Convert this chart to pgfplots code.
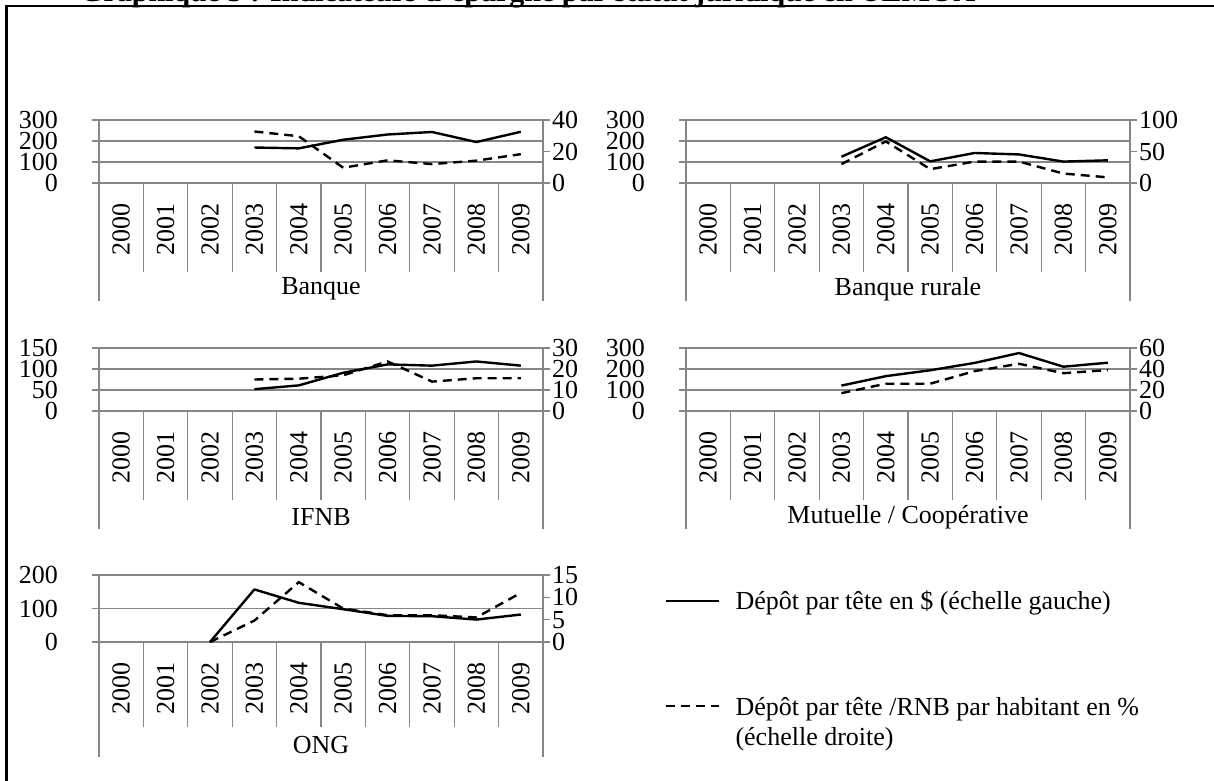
\documentclass[border=0pt]{standalone}
\usepackage{pgfplots}
\pgfplotsset{compat=1.18}
\usepackage{fontspec}
\setmainfont{Liberation Serif}
\definecolor{gcol}{RGB}{134,134,134}
\pgfplotsset{
 every axis/.append style={scale only axis, width=444pt, height=63pt, xmin=0, xmax=10, clip=false,
   /pgf/number format/assume math mode=true},
 Lax/.style={ymin=0, ymax=#1, axis x line*=bottom, axis y line*=left, xtick=\empty,
   ymajorgrids, grid style={gcol, line width=1.3pt}, axis line style={gcol, line width=1.3pt, -},
   tick align=outside, major tick length=7pt, ytick style={gcol, line width=1.3pt},
   yticklabel style={anchor=east, inner sep=0pt, xshift=-34pt}},
 Rax/.style={ymin=0, ymax=#1, axis y line*=right, axis x line=none,
   axis line style={gcol, line width=1.3pt, -},
   tick align=outside, major tick length=7pt, ytick style={gcol, line width=1.3pt},
   yticklabel style={anchor=west, inner sep=0pt, xshift=2pt}},
 Bax/.style={ymin=0, ymax=1, axis y line=none, axis x line*=bottom,
   axis line style={gcol, line width=1.3pt, -},
   xtick={0.5,1.5,...,9.5}, xticklabels={2000,2001,2002,2003,2004,2005,2006,2007,2008,2009},
   major tick length=0pt, minor xtick={1,...,9}, minor tick length=89pt, tick align=outside,
   xtick style={gcol, line width=1.3pt},
   xticklabel style={yshift=-20pt, rotate=90, anchor=east, inner sep=0pt}},
 Cax/.style={ymin=0, ymax=1, axis y line=none, axis x line*=bottom,
   axis line style={gcol, line width=1.3pt, -},
   xtick={0,10}, xticklabels={}, major tick length=118pt, tick align=outside,
   xtick style={gcol, line width=1.3pt},
   xlabel={#1}, xlabel style={at={(axis description cs:0.5,0)}, anchor=center, yshift=-106pt, inner sep=0pt}},
 sol/.style={black, line width=2.4pt, line join=round},
 das/.style={black, line width=2.4pt, dash pattern=on 9pt off 6pt},
}
\begin{document}
\begin{tikzpicture}[font=\fontsize{26}{30}\selectfont]
\draw[line width=2.5pt] (6.5pt,-781pt) -- (6.5pt,-6.2pt) -- (1215pt,-6.2pt);
\node[anchor=base west, inner sep=0pt, font=\fontsize{30}{34}\selectfont\bfseries] at (80pt,-1pt) {Graphique 3 : Indicateurs d'épargne par statut juridique en UEMOA};

% ---------- Banque ----------
\begin{axis}[Cax={Banque}, at={(99pt,-183pt)}, anchor=south west]\end{axis}
\begin{axis}[Bax, at={(99pt,-183pt)}, anchor=south west]\end{axis}
\begin{axis}[Lax=300, ytick={0,100,200,300}, at={(99pt,-183pt)}, anchor=south west]
\addplot[sol] coordinates {(3.5,169) (4.5,165) (5.5,206) (6.5,231) (7.5,243) (8.5,195) (9.5,244)};
\end{axis}
\begin{axis}[Rax=40, ytick={0,20,40}, at={(99pt,-183pt)}, anchor=south west]
\addplot[das] coordinates {(3.5,32.7) (4.5,29.7) (5.5,9.7) (6.5,14.4) (7.5,12) (8.5,14.2) (9.5,18.3)};
\end{axis}

% ---------- Banque rurale ----------
\begin{axis}[Cax={Banque rurale}, at={(686pt,-183pt)}, anchor=south west]\end{axis}
\begin{axis}[Bax, at={(686pt,-183pt)}, anchor=south west]\end{axis}
\begin{axis}[Lax=300, ytick={0,100,200,300}, at={(686pt,-183pt)}, anchor=south west]
\addplot[sol] coordinates {(3.5,125) (4.5,218) (5.5,103) (6.5,143) (7.5,136) (8.5,102) (9.5,108)};
\end{axis}
\begin{axis}[Rax=100, ytick={0,50,100}, at={(686pt,-183pt)}, anchor=south west]
\addplot[das] coordinates {(3.5,30) (4.5,66) (5.5,22) (6.5,34) (7.5,34) (8.5,15) (9.5,9)};
\end{axis}

% ---------- IFNB ----------
\begin{axis}[Cax={IFNB}, at={(99pt,-411pt)}, anchor=south west]\end{axis}
\begin{axis}[Bax, at={(99pt,-411pt)}, anchor=south west]\end{axis}
\begin{axis}[Lax=150, ytick={0,50,100,150}, at={(99pt,-411pt)}, anchor=south west]
\addplot[sol] coordinates {(3.5,52) (4.5,61) (5.5,91) (6.5,111) (7.5,108) (8.5,118) (9.5,108)};
\end{axis}
\begin{axis}[Rax=30, ytick={0,10,20,30}, at={(99pt,-411pt)}, anchor=south west]
\addplot[das] coordinates {(3.5,15) (4.5,15.4) (5.5,17) (6.5,23.6) (7.5,14) (8.5,15.6) (9.5,15.6)};
\end{axis}

% ---------- Mutuelle / Cooperative ----------
\begin{axis}[Cax={Mutuelle / Coopérative}, at={(686pt,-411pt)}, anchor=south west]\end{axis}
\begin{axis}[Bax, at={(686pt,-411pt)}, anchor=south west]\end{axis}
\begin{axis}[Lax=300, ytick={0,100,200,300}, at={(686pt,-411pt)}, anchor=south west]
\addplot[sol] coordinates {(3.5,121) (4.5,166) (5.5,194) (6.5,229) (7.5,276) (8.5,211) (9.5,230)};
\end{axis}
\begin{axis}[Rax=60, ytick={0,20,40,60}, at={(686pt,-411pt)}, anchor=south west]
\addplot[das] coordinates {(3.5,17) (4.5,26) (5.5,26) (6.5,38) (7.5,45) (8.5,36) (9.5,39)};
\end{axis}

% ---------- ONG ----------
\begin{axis}[Cax={ONG}, height=67pt, major tick length=115pt, xlabel style={yshift=3pt}, at={(99pt,-642pt)}, anchor=south west]\end{axis}
\begin{axis}[Bax, height=67pt, minor tick length=85pt, at={(99pt,-642pt)}, anchor=south west]\end{axis}
\begin{axis}[Lax=200, height=67pt, ytick={0,100,200}, at={(99pt,-642pt)}, anchor=south west]
\addplot[sol] coordinates {(2.5,0) (3.5,157) (4.5,117) (5.5,98) (6.5,78) (7.5,77) (8.5,67) (9.5,82)};
\end{axis}
\begin{axis}[Rax=15, height=67pt, ytick={0,5,10,15}, at={(99pt,-642pt)}, anchor=south west,
  legend image code/.code={\draw[#1] (0pt,0pt) -- (53pt,0pt);},
  legend style={at={(axis description cs:1.275,0.767)}, anchor=north west, draw=none, fill=none,
    inner sep=0pt, outer sep=0pt, row sep=84pt, column sep=15pt,
    nodes={inner sep=0pt, outer sep=0pt}},
  legend cell align=left]
\addlegendimage{sol}
\addlegendentry{Dépôt par tête en \$ (échelle gauche)}
\addplot[das] coordinates {(2.5,0) (3.5,4.8) (4.5,13.4) (5.5,7.5) (6.5,6) (7.5,6) (8.5,5.5) (9.5,11)};
\addlegendentry{\raisebox{0pt}[\height][5.5pt]{\begin{tabular}[t]{@{}l@{}}Dépôt par tête /RNB par habitant en \%\\(échelle droite)\end{tabular}}}
\end{axis}
\pgfresetboundingbox
\useasboundingbox (0pt,0pt) rectangle (1214pt,-780pt);
\end{tikzpicture}
\end{document}
